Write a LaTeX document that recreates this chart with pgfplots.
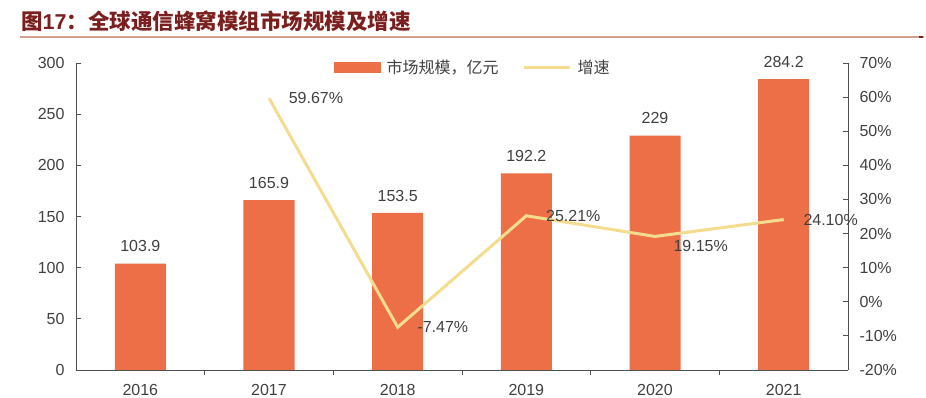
\documentclass[border=0pt]{standalone}
\usepackage{pgfplots}
\pgfplotsset{compat=1.18}
\usepackage{fontspec}
\setmainfont{Liberation Sans}
\newfontfamily\cjk{Noto Sans CJK SC}
\definecolor{barc}{HTML}{ED6F48}
\definecolor{linec}{HTML}{F3DC8E}
\definecolor{txt}{HTML}{404040}
\definecolor{axc}{HTML}{505050}
\definecolor{titlec}{HTML}{7B1E1E}
\definecolor{rulec}{HTML}{D6A090}
\begin{document}
\begin{tikzpicture}[x=1pt,y=1pt]
\useasboundingbox (0,0) rectangle (926,398);
\node[anchor=base west, inner sep=0, text=titlec, font=\fontsize{21.5}{24}\selectfont\bfseries] at (21,368) {{\cjk 图}17{\cjk ：全球通信蜂窝模组市场规模及增速}};
\draw[rulec, line width=2pt] (20,361) -- (924,361);
\fill[titlec] (919,360) rectangle (923,362);
\begin{axis}[
  at={(76pt,28pt)}, anchor=south west,
  scale only axis, width=772pt, height=307pt,
  xmin=-0.5, xmax=5.5, ymin=0, ymax=300,
  ytick={0,50,...,300},
  xtick={0,...,5}, xticklabels={2016,2017,2018,2019,2020,2021},
  minor xtick={0.5,1.5,2.5,3.5,4.5},
  major x tick style={draw=none},
  axis y line*=left, axis x line*=bottom,
  tick align=inside,
  major tick length=5pt, minor tick length=5pt,
  axis line style={axc, line width=0.8pt},
  tick style={axc, line width=0.8pt},
  /pgf/number format/assume math mode=true,
  tick label style={font=\fontsize{16}{18}\selectfont, text=txt},
  yticklabel style={xshift=-8pt},
  xticklabel style={yshift=-6pt},
  ybar, bar width=51pt,
  nodes near coords, point meta=explicit symbolic,
  every node near coord/.append style={font=\fontsize{16}{18}\selectfont, text=txt, yshift=8pt},
  clip=false,
]
\addplot[fill=barc, draw=none] coordinates {
  (0,103.9) [103.9]
  (1,165.9) [165.9]
  (2,153.5) [153.5]
  (3,192.2) [192.2]
  (4,229) [229]
  (5,284.2) [284.2]
};
\end{axis}
\begin{axis}[
  at={(76pt,28pt)}, anchor=south west,
  scale only axis, width=772pt, height=307pt,
  xmin=-0.5, xmax=5.5, ymin=-20, ymax=70,
  ytick={-20,-10,...,70},
  yticklabels={-20\%,-10\%,0\%,10\%,20\%,30\%,40\%,50\%,60\%,70\%},
  axis y line*=right, axis x line=none,
  tick align=inside, major tick length=5pt,
  axis line style={axc, line width=0.8pt},
  tick style={axc, line width=0.8pt},
  tick label style={font=\fontsize{16}{18}\selectfont, text=txt},
  yticklabel style={xshift=8pt},
  clip=false,
  legend style={at={(0.514,0.985)}, anchor=center, draw=none, fill=none,
    font=\cjk\fontsize{16}{18}\selectfont, text=txt, legend columns=2,
    /tikz/every odd column/.append style={column sep=4pt},
    /tikz/every even column/.append style={column sep=22pt}},
]
\addlegendimage{legend image code/.code={\fill[barc] (0pt,-5pt) rectangle (46pt,5pt);}}
\addlegendentry{市场规模，亿元}
\addplot[linec, line width=3pt,
  legend image code/.code={\draw (0pt,0pt) -- (46pt,0pt);},
  nodes near coords, point meta=explicit symbolic,
  every node near coord/.style={anchor=west, xshift=15pt, font=\fontsize{16}{18}\selectfont, text=txt}]
  coordinates {
  (1,59.67) [59.67\%]
  (2,-7.47) [-7.47\%]
  (3,25.21) [25.21\%]
  (4,19.15) []
  (5,24.10) [24.10\%]
};
\addlegendentry{增速}
\addplot[draw=none, forget plot, nodes near coords, point meta=explicit symbolic,
  every node near coord/.style={anchor=west, xshift=15pt, yshift=-10pt, font=\fontsize{16}{18}\selectfont, text=txt}]
  coordinates {(4,19.15) [19.15\%]};
\end{axis}
\end{tikzpicture}
\end{document}
